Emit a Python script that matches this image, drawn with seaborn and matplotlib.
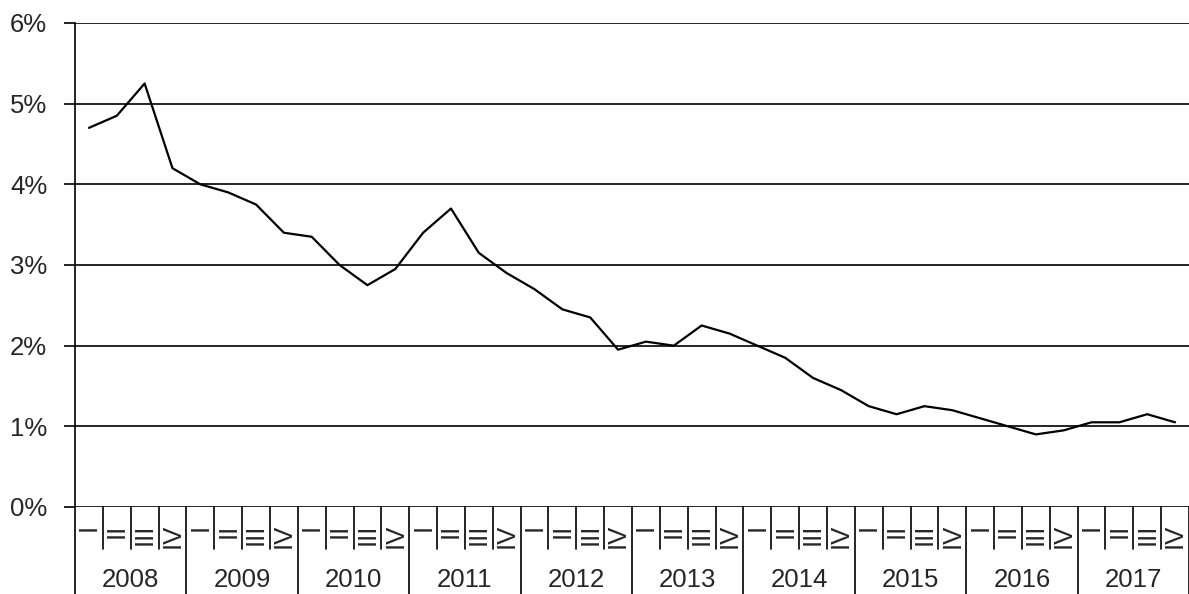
import numpy as np
import pandas as pd
import matplotlib.pyplot as plt
import seaborn as sns

years = ["2008", "2009", "2010", "2011", "2012", "2013", "2014", "2015", "2016", "2017"]
quarters = ["I", "II", "III", "IV"]
rate = [4.70, 4.85, 5.25, 4.20,
        4.00, 3.90, 3.75, 3.40,
        3.35, 3.00, 2.75, 2.95,
        3.40, 3.70, 3.15, 2.90,
        2.70, 2.45, 2.35, 1.95,
        2.05, 2.00, 2.25, 2.15,
        2.00, 1.85, 1.60, 1.45,
        1.25, 1.15, 1.25, 1.20,
        1.10, 1.00, 0.90, 0.95,
        1.05, 1.05, 1.15, 1.05]

sns.set_style("white")
plt.rcParams['font.family'] = ['Liberation Sans', 'DejaVu Sans']

df = pd.DataFrame({"pos": np.arange(len(rate)), "rate": rate})
nq = len(quarters)
n = len(df)
fs = 18.5

fig = plt.figure(figsize=(11.89, 5.94), dpi=100)
ax = fig.add_axes([75 / 1189, 87 / 594, 1 - 75 / 1189, 484 / 594])

sns.lineplot(data=df, x="pos", y="rate", color="black", lw=1.6, ax=ax)

ax.set_xlim(-0.5, n - 0.5)
ax.set_ylim(0, 6)
ax.set_yticks(range(0, 7))
ax.set_yticklabels([f"{v}%" for v in range(0, 7)], fontsize=fs)
ax.tick_params(axis="y", length=8, width=1.2, pad=12, color="black", left=True)
ax.set_xticks([])
ax.set_xlabel("")
ax.set_ylabel("")
for v in range(0, 7):
    ax.axhline(v, color="black", lw=1.2, zorder=0)
for s in ["top", "right", "bottom"]:
    ax.spines[s].set_visible(False)
ax.spines["left"].set_color("black")
ax.spines["left"].set_linewidth(1.2)

tr = ax.get_xaxis_transform()
# left axis line continues through the category area
ax.plot([-0.5, -0.5], [0, -0.2], transform=tr, color="black", lw=1.2, clip_on=False)

for i in range(n):
    b = i + 0.5
    if (i + 1) % nq == 0:
        ax.plot([b, b], [0, -0.2], transform=tr, color="black", lw=1.2, clip_on=False)
    else:
        ax.plot([b, b], [0, -0.087], transform=tr, color="black", lw=1.2, clip_on=False)
    ax.text(i, -0.034, quarters[i % nq], transform=tr, rotation=90,
            ha="center", va="top", fontsize=fs)

for k, y in enumerate(years):
    c = k * nq + (nq - 1) / 2
    ax.text(c, -0.151, y, transform=tr, ha="center", va="center", fontsize=fs)

fig.savefig("out.png", dpi=100)
